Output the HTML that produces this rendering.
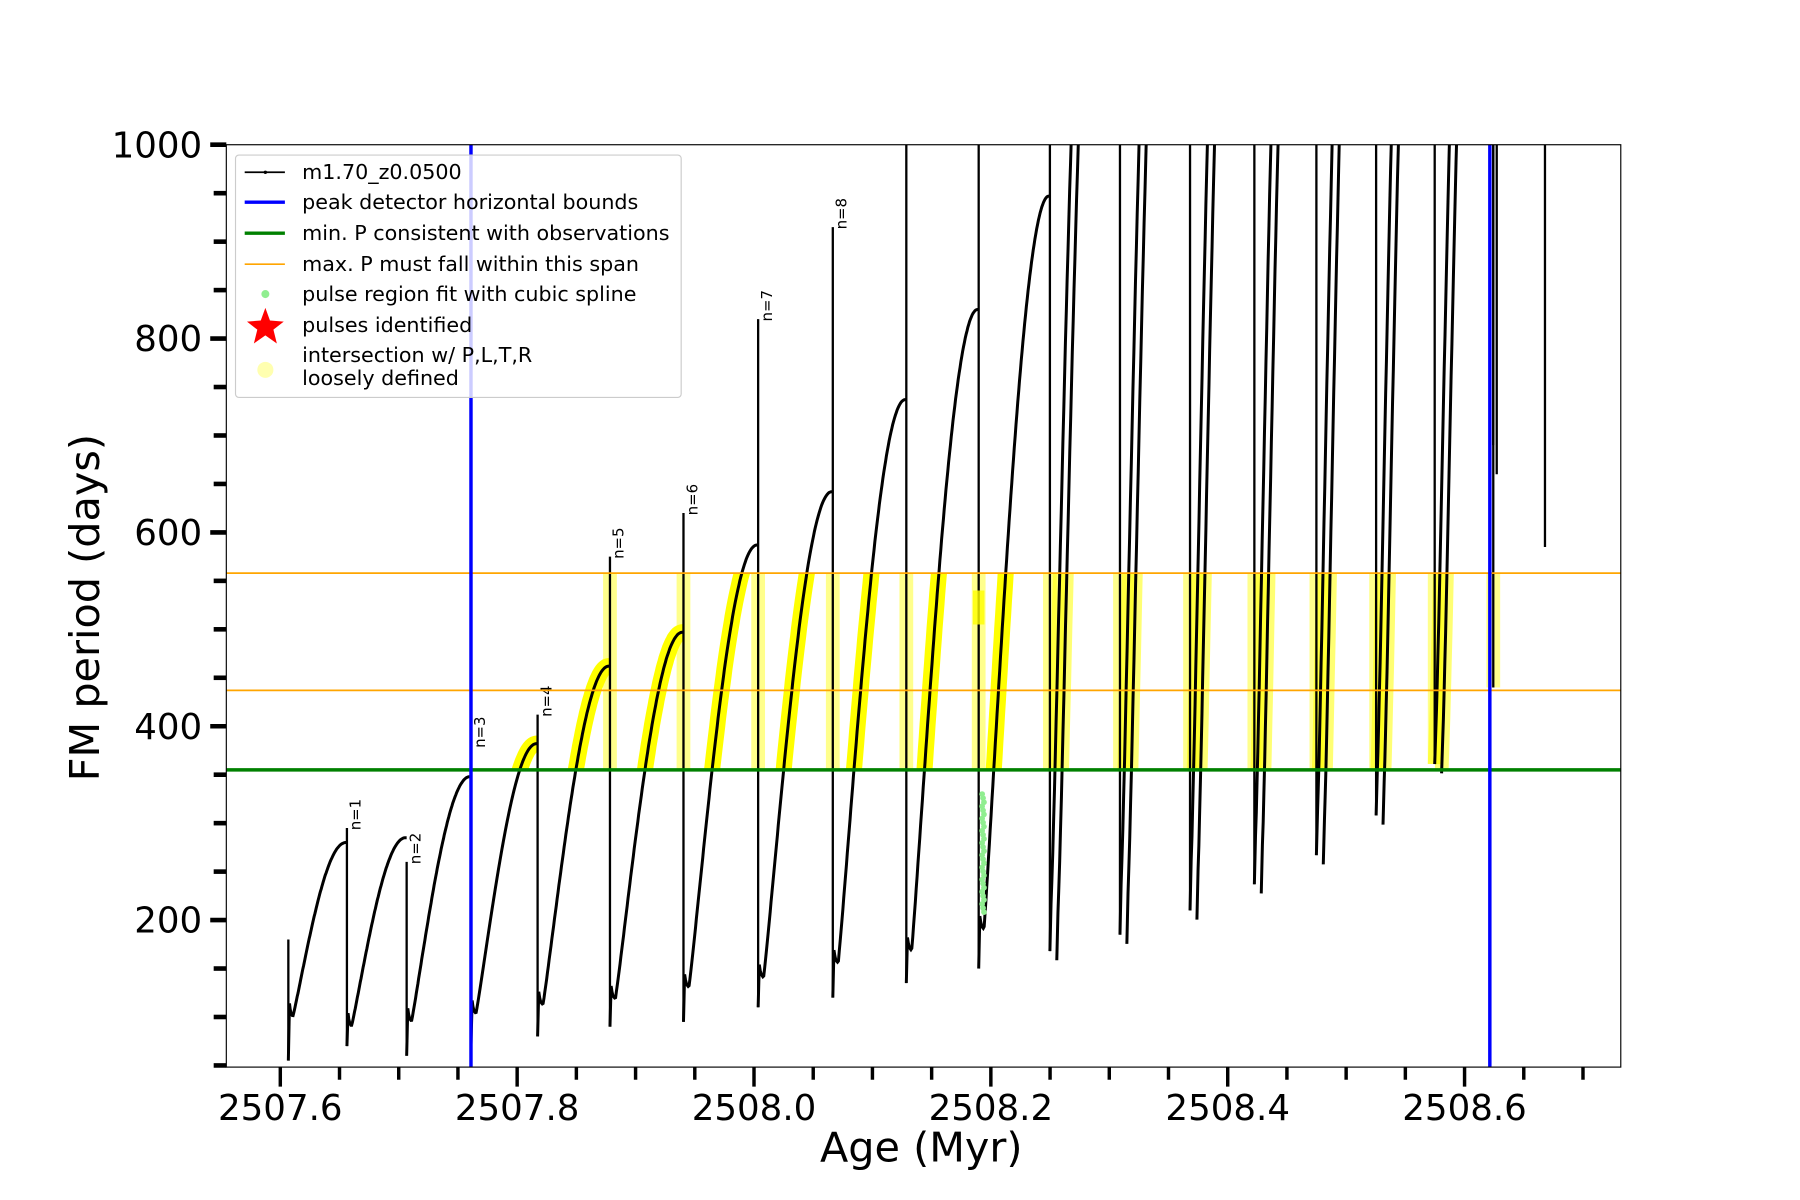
<!DOCTYPE html>
<html><head><meta charset="utf-8"><style>
html,body{margin:0;padding:0;background:#fff;width:1800px;height:1200px;overflow:hidden}
svg{display:block}
text{font-family:"DejaVu Sans","Liberation Sans",sans-serif}
</style></head><body>
<svg id="s" width="1800" height="1200" viewBox="0 0 1567 1044.7" xmlns="http://www.w3.org/2000/svg">
<defs>
<clipPath id="ax"><rect x="197" y="126" width="1214" height="803"/></clipPath>
<clipPath id="band"><rect x="197" y="499" width="1214" height="171"/></clipPath>
</defs>
<rect x="0" y="0" width="1567" height="1045" fill="#fff"/>
<g id="yel" clip-path="url(#band)"></g>
<g id="data" clip-path="url(#ax)"></g>
<g id="lines"></g>
<rect x="197" y="126" width="1214" height="803" fill="none" stroke="#000" stroke-width="1"/>
<g id="ticks"></g>
<text x="802" y="1011" font-size="36" text-anchor="middle">Age (Myr)</text>
<text transform="translate(86,529) rotate(-90)" font-size="36" text-anchor="middle">FM period (days)</text>
<g>
<rect x="205" y="135" width="388" height="211" rx="3" fill="#fff" fill-opacity="0.8" stroke="#ccc"/>
<line x1="213" y1="150" x2="248" y2="150" stroke="#000" stroke-width="1.5"/><circle cx="231" cy="150" r="1.5"/>
<text x="263" y="156" font-size="18">m1.70_z0.0500</text>
<line x1="213" y1="176" x2="248" y2="176" stroke="#00f" stroke-width="3"/>
<text x="263" y="182" font-size="18">peak detector horizontal bounds</text>
<line x1="213" y1="203" x2="248" y2="203" stroke="#008000" stroke-width="3"/>
<text x="263" y="209" font-size="18">min. P consistent with observations</text>
<line x1="213" y1="230" x2="248" y2="230" stroke="orange" stroke-width="1.5"/>
<text x="263" y="236" font-size="18">max. P must fall within this span</text>
<circle cx="231" cy="256" r="3.5" fill="#90ee90"/>
<text x="263" y="262" font-size="18">pulse region fit with cubic spline</text>
<polygon fill="red" points="231,268 235,279 247,280 238,287 241,299 231,292 221,299 224,287 215,280 227,279"/>
<text x="263" y="289" font-size="18">pulses identified</text>
<circle cx="231" cy="322" r="7" fill="#ffffb0"/>
<text x="263" y="315" font-size="18">intersection w/ P,L,T,R</text>
<text x="263" y="335" font-size="18">loosely defined</text>
</g>
</svg>
<script>
var NS="http://www.w3.org/2000/svg";
function X(v){return 244+(v-2507.6)*1031;}
function Y(v){return 126+(1000-v)*0.84375;}
function el(p,t,a){var e=document.createElementNS(NS,t);for(var k in a)e.setAttribute(k,a[k]);p.appendChild(e);return e;}
var data=document.getElementById('data'),yel=document.getElementById('yel'),lines=document.getElementById('lines'),tk=document.getElementById('ticks');
var p=[251,302,354,410,468,531,595,660,725,789,852,914,975,1036,1092,1146,1198,1249,1300];
var P=[280,285,348,382,462,497,587,642,737,830,947,1300,1400,1400,1400,1400,1400,1400];
var m=[100,90,95,103,112,118,130,140,155,168,190,205,225,250,275,300,340,385];
var s=[55,70,60,70,80,90,95,110,120,135,150,168,185,210,237,267,308,361,440];
var sh=[180,295,260,380,412,575,620,820,915,1050,1050,1050,1050,1050,1050,1050,1050,1050,1050];
var paths=[];
for(var i=0;i<p.length-1;i++){
  var a=p[i],b=p[i+1],pts=[];
  pts.push([a,Y(s[i])]);
  var late=i>=11;
  var N=80;
  for(var k=0;k<=N;k++){var t=k/N;var x=a+1+(b-a-2)*t;
    var y;
    if(late){y=m[i]+(P[i]-m[i])*Math.pow(Math.sin(Math.PI/2*Math.min(t/0.55,1)),1.1)+12*Math.exp(-t*40);}
    else{var tt=Math.max(0,(t-0.06)/0.94);y=m[i]+(P[i]-m[i])*Math.pow(Math.sin(Math.PI/2*tt),1.05)+14*Math.exp(-t*45);}
    pts.push([x,Y(y)]);}
  pts.push([b,Y(P[i])]);
  paths.push(pts);
  if(late){var pts2=pts.map(function(q){return [q[0]+6,q[1]+8];});paths.push(pts2);}
}
function d(pts){return 'M'+pts.map(function(q){return q[0].toFixed(1)+','+q[1].toFixed(1)}).join('L');}
for(var j=0;j<paths.length;j++){var x0=paths[j][0][0];if(x0>=405){el(yel,'path',{d:d(paths[j]),fill:'none',stroke:x0>880?'rgba(255,255,0,0.55)':'#ffff00','stroke-width':x0>880?12:14,'stroke-linejoin':'round'});}}
for(var i=5;i<p.length;i++){el(yel,'line',{x1:p[i],y1:Y(sh[i]),x2:p[i],y2:Y(s[i]),stroke:'rgba(255,255,0,0.45)','stroke-width':12});}
for(var i=0;i<p.length;i++){el(data,'line',{x1:p[i],y1:Y(sh[i]),x2:p[i],y2:Y(s[i]),stroke:'#000','stroke-width':2});}
for(var j=0;j<paths.length;j++){el(data,'path',{d:d(paths[j]),fill:'none',stroke:'#000','stroke-width':2.6});}
el(data,'line',{x1:1303,y1:126,x2:1303,y2:Y(660),stroke:'#000','stroke-width':2});
el(data,'line',{x1:1300,y1:126,x2:1300,y2:Y(690),stroke:'#000','stroke-width':2});
el(data,'line',{x1:1345,y1:126,x2:1345,y2:Y(585),stroke:'#000','stroke-width':2});
for(var k=0;k<30;k++){var v=330-k*4.2;el(data,'circle',{cx:855+(k%3)*0.8,cy:Y(v),r:2.5,fill:'#90ee90'});}
el(data,'line',{x1:852,y1:Y(540),x2:852,y2:Y(505),stroke:'#ffff00','stroke-width':10,opacity:0.8});
var nl=[[305,295],[357,260],[413,380],[471,412],[534,575],[598,620],[663,820],[728,915]];
for(var i=0;i<nl.length;i++){var t=el(data,'text',{transform:'translate('+(nl[i][0]+9)+','+(Y(nl[i][1])+2)+') rotate(-90)','font-size':13});t.textContent='n='+(i+1);}
el(lines,'line',{x1:197,y1:Y(558),x2:1411,y2:Y(558),stroke:'orange','stroke-width':1.5});
el(lines,'line',{x1:197,y1:Y(437),x2:1411,y2:Y(437),stroke:'orange','stroke-width':1.5});
el(lines,'line',{x1:197,y1:Y(355),x2:1411,y2:Y(355),stroke:'#008000','stroke-width':3});
el(lines,'line',{x1:410,y1:126,x2:410,y2:929,stroke:'#00f','stroke-width':3});
el(lines,'line',{x1:1297,y1:126,x2:1297,y2:929,stroke:'#00f','stroke-width':3});
for(var v=50;v<=1000;v+=50){var y=Y(v);var maj=v%200==0;el(tk,'line',{x1:maj?183:186,y1:y,x2:197,y2:y,stroke:'#000','stroke-width':4});
 if(maj){var t=el(tk,'text',{x:176,y:y+11,'font-size':31,'text-anchor':'end'});t.textContent=v;}}
for(var k=0;k<=22;k++){var v=2507.6+k*0.05;var x=X(v);if(x>1411)break;var maj=k%4==0;el(tk,'line',{x1:x,y1:929,x2:x,y2:maj?946:940,stroke:'#000','stroke-width':3});
 if(maj){var t=el(tk,'text',{x:x,y:975,'font-size':31,'text-anchor':'middle'});t.textContent=v.toFixed(1);}}
</script>
</body></html>
